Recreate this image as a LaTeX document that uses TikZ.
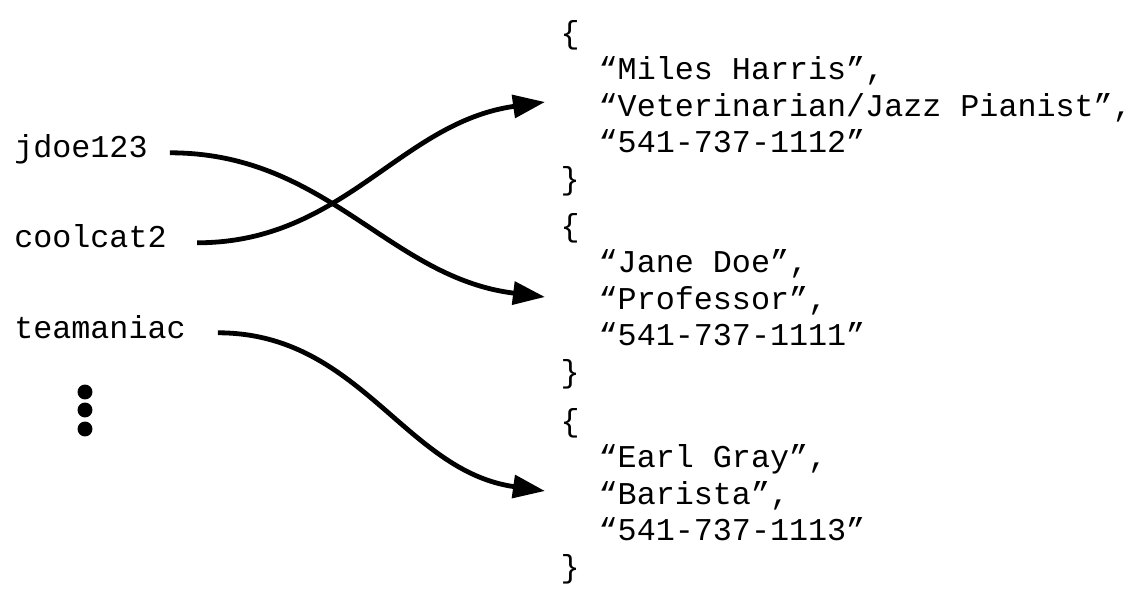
\documentclass[tikz,border=0pt]{standalone}
\usepackage{fontspec}
\setmonofont{Liberation Mono}
\usetikzlibrary{arrows.meta,positioning}
\newcommand{\ind}{\hspace*{1.2em}}

\begin{document}
\begin{tikzpicture}[
    x=0.75pt, y=0.75pt,
    every node/.style={
        font=\ttfamily\fontsize{23.8pt}{27.4pt}\selectfont,
        inner sep=0pt
    },
    username/.style={anchor=base west, text height=0.78em, text depth=0pt},
    record/.style={anchor=west, align=left, inner xsep=11.5pt},
    link/.style={line width=3.6pt, -{Triangle[length=24pt,width=17pt]}}
]
\useasboundingbox (0,0) rectangle (1136,590);
\node[username] (jdoe) at (14,432) {jdoe123};
\node[username] (coolcat) at (14,342) {coolcat2};
\node[username] (teamaniac) at (14,252) {teamaniac};
\foreach \y in {198,180,161}
    \fill (85,\y) circle (5.6pt);
\node[record] (miles) at (545,482) {\{\\
    \ind “Miles Harris”,\\
    \ind “Veterinarian/Jazz Pianist”,\\
    \ind “541-737-1112”\\
    \}};
\node[record] (jane) at (545,289) {\{\\
    \ind “Jane Doe”,\\
    \ind “Professor”,\\
    \ind “541-737-1111”\\
    \}};
\node[record] (earl) at (545,94) {\{\\
    \ind “Earl Gray”,\\
    \ind “Barista”,\\
    \ind “541-737-1113”\\
    \}};
\draw[link] ([xshift=16.5pt]jdoe.east) to[out=0,in=173] ([yshift=3pt]jane.west);
\draw[link] ([xshift=22.7pt]coolcat.east) to[out=0,in=188] ([yshift=4.5pt]miles.west);
\draw[link] ([xshift=24pt]teamaniac.east) to[out=0,in=172] ([yshift=3.75pt]earl.west);
\end{tikzpicture}
\end{document}
